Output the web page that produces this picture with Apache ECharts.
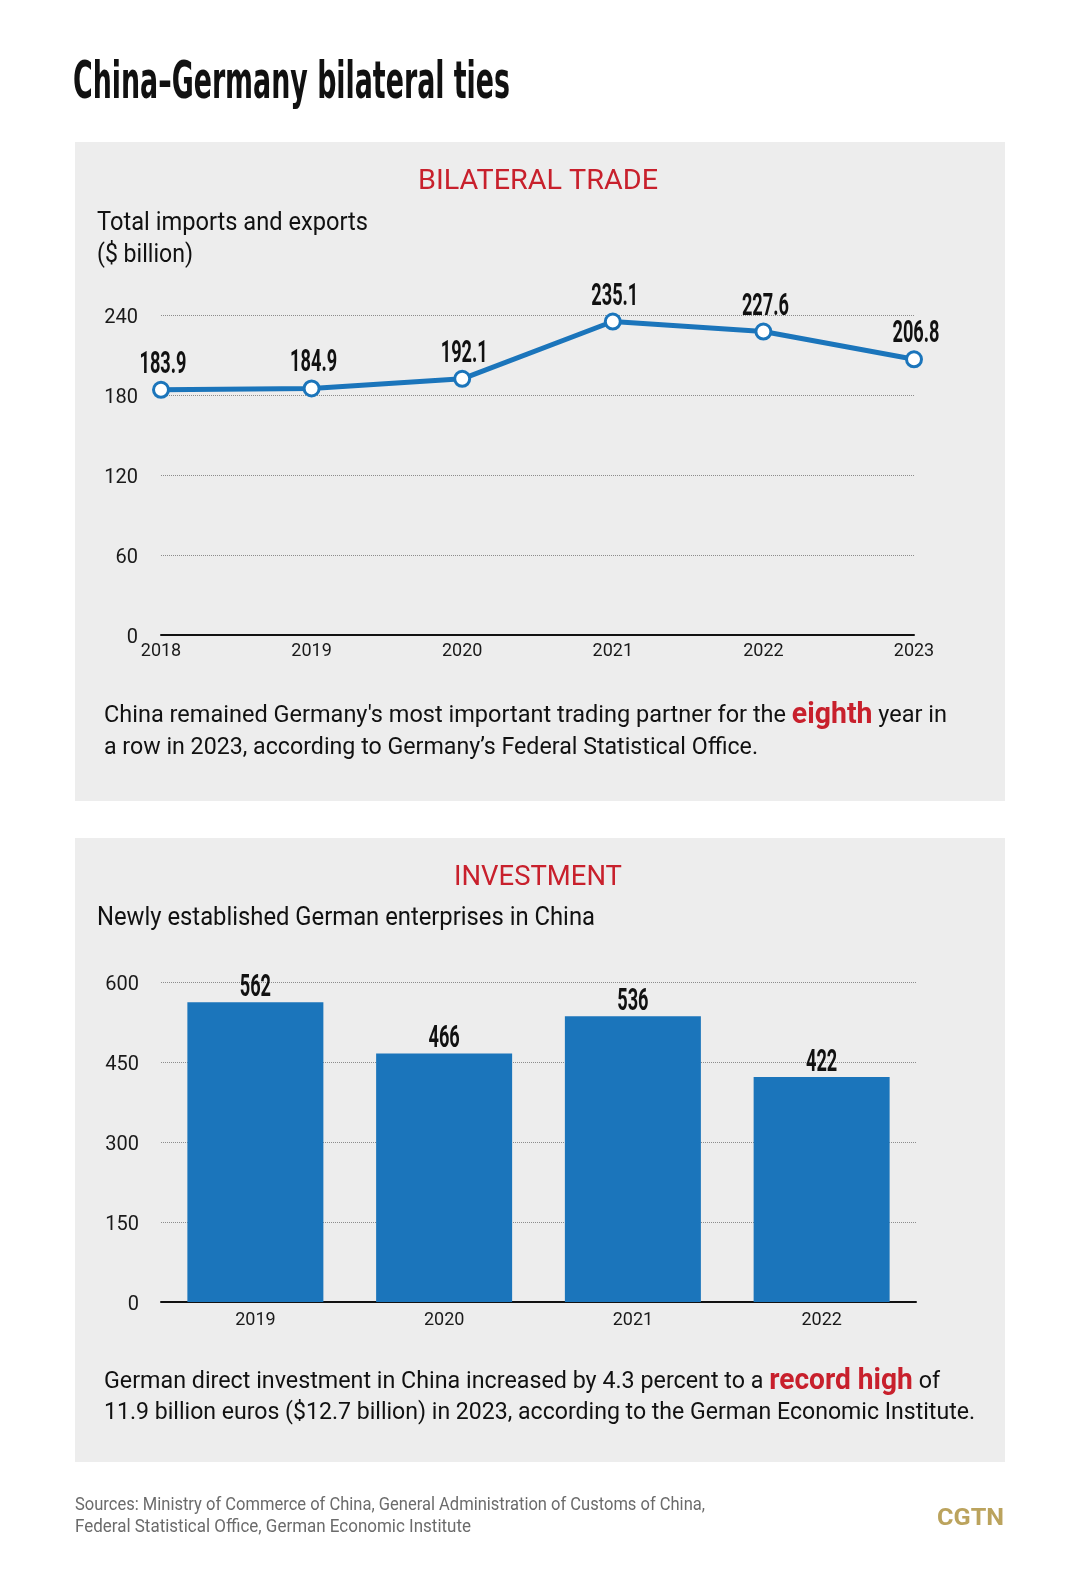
<!DOCTYPE html>
<html><head><meta charset="utf-8">
<script src="https://cdn.jsdelivr.net/npm/echarts@6/dist/echarts.min.js"></script>
<style>html,body{margin:0;padding:0;background:#fff}#c{width:1080px;height:1569px}</style>
</head><body><div id="c"></div>
<script>
// ---- data ----
const tradeYears = ['2018', '2019', '2020', '2021', '2022', '2023'];
const tradeValues = [183.9, 184.9, 192.1, 235.1, 227.6, 206.8];
const tradeTicks = [0, 60, 120, 180, 240];
const investYears = ['2019', '2020', '2021', '2022'];
const investValues = [562, 466, 536, 422];
const investTicks = [0, 150, 300, 450, 600];

// ---- styles ----
const BLUE = '#1b75bb';
const RED = '#c8202c';
const PANEL = '#ededed';
const NARROW = "'Liberation Sans Narrow', 'DejaVu Sans Condensed', sans-serif";
const REG = "Roboto, 'Noto Sans', sans-serif";

const mctx = document.createElement('canvas').getContext('2d');
function measure(t, font) { mctx.font = font; return mctx.measureText(t).width; }

function fitText(o) {
  const w = o.weight || 'normal';
  const m = measure(o.text, `${w} ${o.size}px ${o.family}`);
  const sx = o.scale ? o.scale : (o.width ? o.width / m : 1);
  return { type: 'text', x: o.x, y: o.y, scaleX: sx, z: 10,
    style: { text: o.text, fontSize: o.size, fontWeight: w, fontFamily: o.family,
      fill: o.color, align: o.align || 'left', verticalAlign: 'middle' } };
}
function richLine(o) {
  let total = 0, s = '';
  o.segs.forEach(sg => {
    const st = o.rich[sg[0]];
    total += measure(sg[1], `${st.fontWeight} ${st.fontSize}px ${st.fontFamily}`);
    s += `{${sg[0]}|${sg[1]}}`;
  });
  return { type: 'text', x: o.x, y: o.y, scaleX: o.width / total, z: 10,
    style: { text: s, rich: o.rich, align: 'left', verticalAlign: 'middle' } };
}
const bodyRich = {
  n: { fontSize: 24, fontWeight: 'normal', fontFamily: REG, fill: '#111' },
  r: { fontSize: 29, fontWeight: 'bold', fontFamily: REG, fill: RED }
};

const graphics = [
  { type: 'rect', z: -100, shape: { x: 75, y: 142, width: 930, height: 659 }, style: { fill: PANEL } },
  { type: 'rect', z: -100, shape: { x: 75, y: 838, width: 930, height: 624 }, style: { fill: PANEL } },
  fitText({ x: 73, y: 84, text: 'China–Germany bilateral ties', size: 52, weight: 'bold', family: NARROW, color: '#111', width: 437 }),
  fitText({ x: 538, y: 182, text: 'BILATERAL TRADE', size: 27, family: REG, color: RED, width: 240, align: 'center' }),
  fitText({ x: 538, y: 878, text: 'INVESTMENT', size: 27, family: REG, color: RED, width: 168, align: 'center' }),
  fitText({ x: 97, y: 224, text: 'Total imports and exports', size: 25, family: REG, color: '#111', width: 271 }),
  fitText({ x: 97, y: 256, text: '($ billion)', size: 25, family: REG, color: '#111', width: 96 }),
  fitText({ x: 97, y: 919, text: 'Newly established German enterprises in China', size: 25, family: REG, color: '#111', width: 498 }),
  richLine({ x: 104, y: 716, width: 843, rich: bodyRich,
    segs: [['n', "China remained Germany's most important trading partner for the "], ['r', 'eighth'], ['n', ' year in']] }),
  richLine({ x: 104, y: 748, width: 654, rich: bodyRich,
    segs: [['n', 'a row in 2023, according to Germany’s Federal Statistical Office.']] }),
  richLine({ x: 104, y: 1382, width: 836, rich: bodyRich,
    segs: [['n', 'German direct investment in China increased by 4.3 percent to a '], ['r', 'record high'], ['n', ' of']] }),
  richLine({ x: 104, y: 1413, width: 871, rich: bodyRich,
    segs: [['n', '11.9 billion euros ($12.7 billion) in 2023, according to the German Economic Institute.']] }),
  fitText({ x: 75, y: 1505, text: 'Sources: Ministry of Commerce of China, General Administration of Customs of China,', size: 18, family: REG, color: '#6b6b6b', width: 630 }),
  fitText({ x: 75, y: 1527, text: 'Federal Statistical Office, German Economic Institute', size: 18, family: REG, color: '#6b6b6b', width: 396 }),
  fitText({ x: 937, y: 1519, text: 'CGTN', size: 24, weight: 'bold', family: REG, color: '#bba35d', width: 67 })
];

const axisLabelStyle = { formatter: '{v|{value}}',
  rich: { v: { color: '#1a1a1a', fontFamily: REG, fontSize: 20, padding: [6, 0, 0, 0] } } };
const splitStyle = { show: true, lineStyle: { type: 'dotted', color: '#8c8c8c', width: 1 } };

const option = {
  animation: false,
  backgroundColor: '#ffffff',
  graphic: { elements: graphics },
  grid: [
    { left: 161, right: 166, top: 315, bottom: 1569 - 635 },
    { left: 161, right: 164, top: 982, bottom: 1569 - 1302 }
  ],
  xAxis: [
    { type: 'category', gridIndex: 0, data: tradeYears, boundaryGap: false,
      axisLine: { lineStyle: { color: '#111', width: 2 } }, axisTick: { show: false },
      axisLabel: { color: '#1a1a1a', fontFamily: REG, fontSize: 18, margin: 7 } },
    { type: 'category', gridIndex: 1, data: investYears, boundaryGap: true,
      axisLine: { lineStyle: { color: '#111', width: 2 } }, axisTick: { show: false },
      axisLabel: { color: '#1a1a1a', fontFamily: REG, fontSize: 18, margin: 9 } }
  ],
  yAxis: [
    { type: 'value', gridIndex: 0, min: tradeTicks[0], max: tradeTicks[tradeTicks.length - 1],
      interval: tradeTicks[1] - tradeTicks[0], axisLine: { show: false }, axisTick: { show: false },
      axisLabel: Object.assign({ margin: 23 }, axisLabelStyle), splitLine: splitStyle },
    { type: 'value', gridIndex: 1, min: investTicks[0], max: investTicks[investTicks.length - 1],
      interval: investTicks[1] - investTicks[0], axisLine: { show: false }, axisTick: { show: false },
      axisLabel: Object.assign({ margin: 22 }, axisLabelStyle), splitLine: splitStyle }
  ],
  series: [
    { type: 'line', xAxisIndex: 0, yAxisIndex: 0, data: tradeValues,
      lineStyle: { color: BLUE, width: 5 }, symbol: 'circle', symbolSize: 15,
      itemStyle: { color: '#fff', borderColor: BLUE, borderWidth: 3 }, z: 5 },
    { type: 'bar', xAxisIndex: 1, yAxisIndex: 1, data: investValues, barWidth: 136,
      itemStyle: { color: BLUE } }
  ]
};
const chart = echarts.init(document.getElementById('c'), null, { renderer: 'canvas' });
chart.setOption(option);

// value labels positioned through the chart's own scales
const NUMSIZE = 32;
const numFont = `bold ${NUMSIZE}px ${REG}`;
const numScale = 47 / measure('183.9', numFont);
const labels = [];
tradeValues.forEach((v, i) => {
  const p = chart.convertToPixel({ xAxisIndex: 0, yAxisIndex: 0 }, [i, v]);
  labels.push(fitText({ x: p[0] + 2, y: p[1] - 25, text: v.toFixed(1), size: NUMSIZE, weight: 'bold',
    family: REG, color: '#111', scale: numScale, align: 'center' }));
});
investValues.forEach((v, i) => {
  const p = chart.convertToPixel({ xAxisIndex: 1, yAxisIndex: 1 }, [i, v]);
  labels.push(fitText({ x: p[0], y: p[1] - 14, text: String(v), size: NUMSIZE, weight: 'bold',
    family: REG, color: '#111', scale: numScale, align: 'center' }));
});
option.graphic.elements = graphics.concat(labels);
chart.setOption(option, true);
</script>
</body></html>
